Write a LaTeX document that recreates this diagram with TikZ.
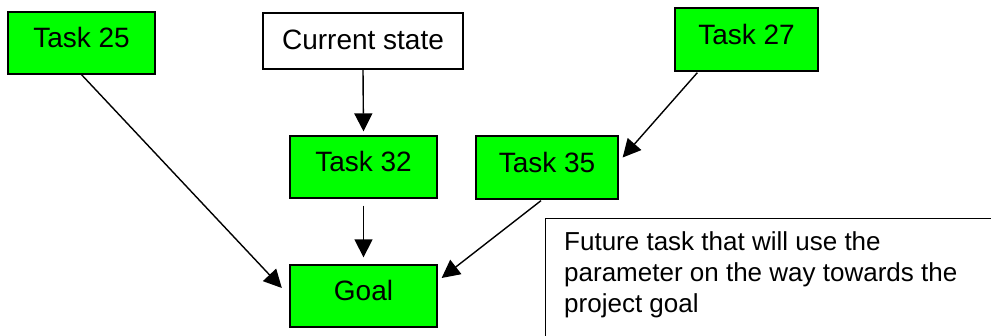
\documentclass[tikz,border=0pt]{standalone}
\usepackage{fontspec}
\setmainfont{Liberation Sans}
\usetikzlibrary{arrows.meta,calc}
\definecolor{taskgreen}{RGB}{0,255,0}
\begin{document}
\begin{tikzpicture}[x=1pt,y=-1pt,
  box/.style={draw=black, line width=1.3pt, inner sep=0pt,
    font=\fontsize{28}{33}\selectfont, text height=20pt, text depth=10pt},
  task/.style={box, fill=taskgreen, minimum width=147pt, minimum height=62pt},
  arr/.style={line width=1.4pt, -{Triangle[length=18pt,width=18pt]}},
  futbox/.style={draw=black, line width=1.2pt, minimum width=470pt, minimum height=140pt, inner sep=0pt},
  futtext/.style={inner sep=0pt, align=left, font=\fontsize{26}{31}\selectfont}]
\useasboundingbox (0,0) rectangle (991,336);

\node[task] (t25) at (81.5,43) {Task 25};
\node[box, fill=white, minimum width=200pt, minimum height=56pt, text depth=2pt] (cur) at (363,41) {Current state};
\node[task, minimum width=143pt, minimum height=63pt] (t27) at (746.5,39.5) {Task 27};
\node[task] (t32) at (363.5,167) {Task 32};
\node[task, minimum width=142pt, minimum height=63pt] (t35) at (547,167.5) {Task 35};
\node[task] (goal) at (363.5,296) {Goal};

\node[futbox, anchor=north west] (fbox) at (545,218) {};
\node[futtext, anchor=north west] (ftext) at ($(fbox.north west)+(19,13.4)$)
  {Future task that will use the\\parameter on the way towards the\\project goal};

\draw[arr, shorten >=4pt] (cur.south) -- (t32.north);
\draw[arr, shorten <=7pt, shorten >=7pt] (t32.south) -- (goal.north);
\draw[arr, shorten >=11pt] (t25.south) -- (goal.west);
\draw[arr] ($(t27.south west)+(23,1)$) -- ($(t35.east)+(4,-10)$);
\draw[arr] ($(t35.south)+(-6,1)$) -- ($(goal.east)+(4,-18)$);
\end{tikzpicture}
\end{document}
